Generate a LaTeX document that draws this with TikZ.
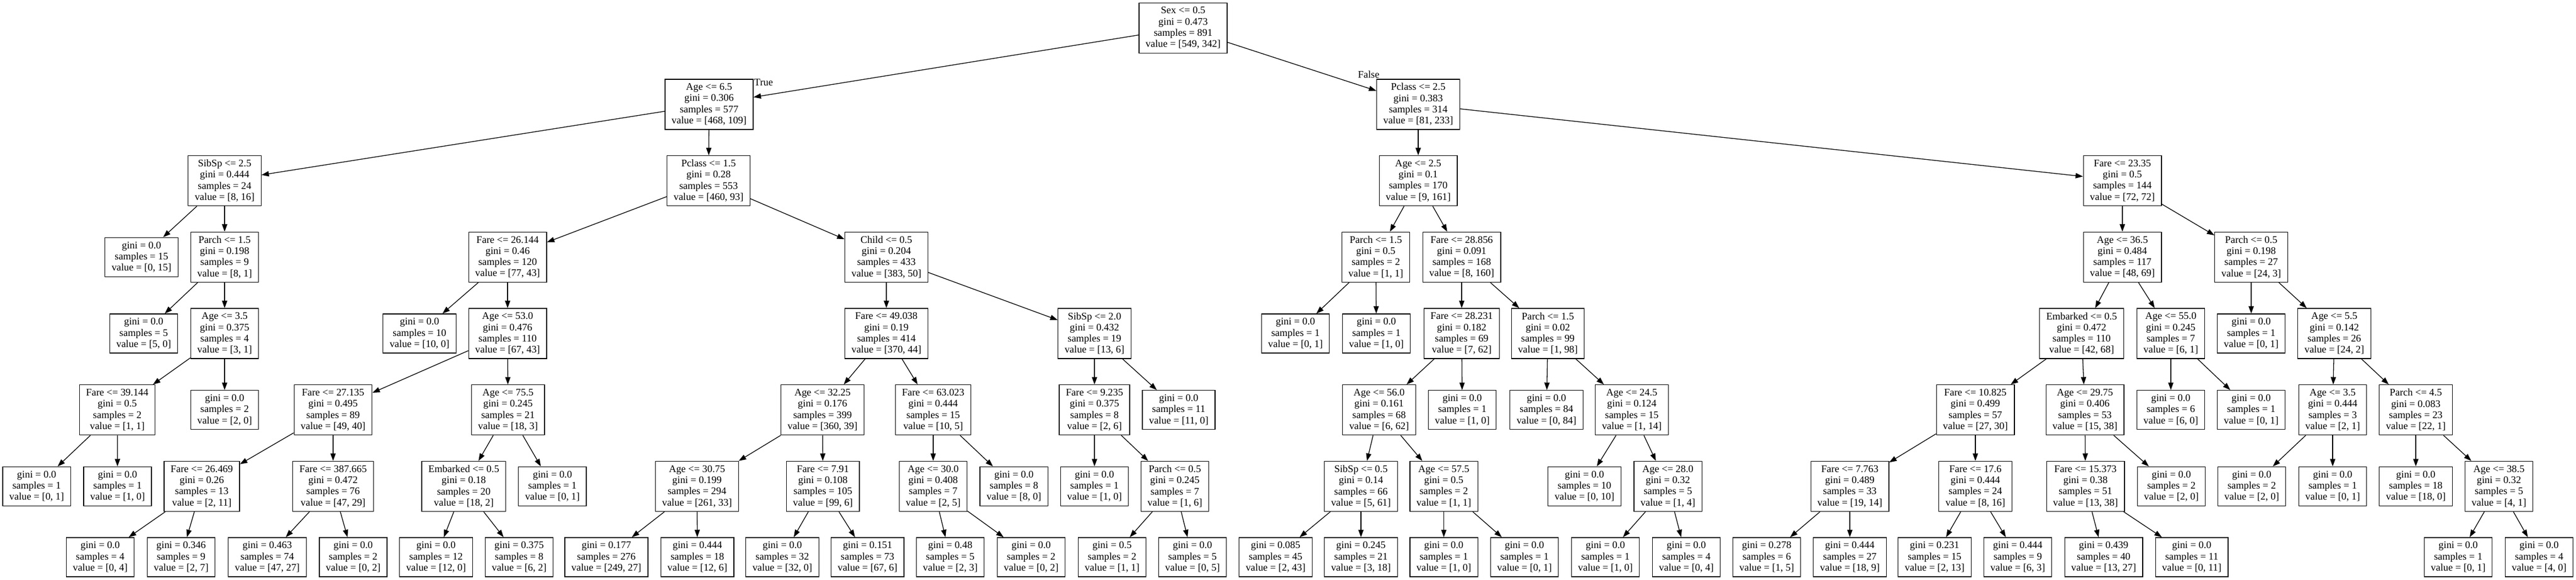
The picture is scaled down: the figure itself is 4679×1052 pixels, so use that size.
\documentclass[tikz,border=0pt]{standalone}
\usepackage{fontspec}
\setmainfont{Liberation Serif}
\usetikzlibrary{arrows.meta}

\tikzset{
  split/.style={draw, line width=1.3pt, align=center, inner xsep=12pt, inner ysep=0pt, minimum height=91pt},
  leaf/.style={split, minimum height=71pt},
  branch/.style={line width=1.3pt, -{Triangle[length=13.5pt,width=9.5pt]}},
  edgetext/.style={inner sep=0pt, anchor=base},
}

\begin{document}
\begin{tikzpicture}[x=1pt,y=-1pt,font=\fontsize{18.4}{20.3}\selectfont]
  \useasboundingbox (0,0) rectangle (4679,1052);

  % level 0 and 1
  \node[split] (n0) at (2149,50.7) {Sex <= 0.5\\gini = 0.473\\samples = 891\\value = [549, 342]};
  \node[split] (n1) at (1288,189.4) {Age <= 6.5\\gini = 0.306\\samples = 577\\value = [468, 109]};
  \node[split] (n48) at (2576,189.4) {Pclass <= 2.5\\gini = 0.383\\samples = 314\\value = [81, 233]};

  \node[edgetext] (ltrue) at (1387,155) {True};
  \node[edgetext] (lfalse) at (2486,141) {False};

  % level 2
  \node[split] (n2) at (408,328.1) {SibSp <= 2.5\\gini = 0.444\\samples = 24\\value = [8, 16]};
  \node[split] (n11) at (1287,328.1) {Pclass <= 1.5\\gini = 0.28\\samples = 553\\value = [460, 93]};
  \node[split] (n49) at (2576,328.1) {Age <= 2.5\\gini = 0.1\\samples = 170\\value = [9, 161]};
  \node[split] (n70) at (3855,328.1) {Fare <= 23.35\\gini = 0.5\\samples = 144\\value = [72, 72]};

  % level 3
  \node[leaf] (n3) at (257,466.8) {gini = 0.0\\samples = 15\\value = [0, 15]};
  \node[split] (n4) at (408,466.8) {Parch <= 1.5\\gini = 0.198\\samples = 9\\value = [8, 1]};
  \node[split] (n12) at (922,466.8) {Fare <= 26.144\\gini = 0.46\\samples = 120\\value = [77, 43]};
  \node[split] (n27) at (1610,466.8) {Child <= 0.5\\gini = 0.204\\samples = 433\\value = [383, 50]};
  \node[split] (n50) at (2499,466.8) {Parch <= 1.5\\gini = 0.5\\samples = 2\\value = [1, 1]};
  \node[split] (n53) at (2655,466.8) {Fare <= 28.856\\gini = 0.091\\samples = 168\\value = [8, 160]};
  \node[split] (n71) at (3855,466.8) {Age <= 36.5\\gini = 0.484\\samples = 117\\value = [48, 69]};
  \node[split] (n88) at (4089,466.8) {Parch <= 0.5\\gini = 0.198\\samples = 27\\value = [24, 3]};

  % level 4
  \node[leaf] (n5) at (261,605.5) {gini = 0.0\\samples = 5\\value = [5, 0]};
  \node[split] (n6) at (408,605.5) {Age <= 3.5\\gini = 0.375\\samples = 4\\value = [3, 1]};
  \node[leaf] (n13) at (762,605.5) {gini = 0.0\\samples = 10\\value = [10, 0]};
  \node[split] (n14) at (922,605.5) {Age <= 53.0\\gini = 0.476\\samples = 110\\value = [67, 43]};
  \node[split] (n28) at (1610,605.5) {Fare <= 49.038\\gini = 0.19\\samples = 414\\value = [370, 44]};
  \node[split] (n41) at (1988,605.5) {SibSp <= 2.0\\gini = 0.432\\samples = 19\\value = [13, 6]};
  \node[leaf] (n51) at (2353,605.5) {gini = 0.0\\samples = 1\\value = [0, 1]};
  \node[leaf] (n52) at (2500,605.5) {gini = 0.0\\samples = 1\\value = [1, 0]};
  \node[split] (n54) at (2655,605.5) {Fare <= 28.231\\gini = 0.182\\samples = 69\\value = [7, 62]};
  \node[split] (n63) at (2811.5,605.5) {Parch <= 1.5\\gini = 0.02\\samples = 99\\value = [1, 98]};
  \node[split] (n72) at (3781,605.5) {Embarked <= 0.5\\gini = 0.472\\samples = 110\\value = [42, 68]};
  \node[split] (n85) at (3943,605.5) {Age <= 55.0\\gini = 0.245\\samples = 7\\value = [6, 1]};
  \node[leaf] (n89) at (4089,605.5) {gini = 0.0\\samples = 1\\value = [0, 1]};
  \node[split] (n90) at (4240,605.5) {Age <= 5.5\\gini = 0.142\\samples = 26\\value = [24, 2]};

  % level 5
  \node[split] (n7) at (213,744.2) {Fare <= 39.144\\gini = 0.5\\samples = 2\\value = [1, 1]};
  \node[leaf] (n10) at (408,744.2) {gini = 0.0\\samples = 2\\value = [2, 0]};
  \node[split] (n15) at (605,744.2) {Fare <= 27.135\\gini = 0.495\\samples = 89\\value = [49, 40]};
  \node[split] (n22) at (922.7,744.2) {Age <= 75.5\\gini = 0.245\\samples = 21\\value = [18, 3]};
  \node[split] (n29) at (1494,744.2) {Age <= 32.25\\gini = 0.176\\samples = 399\\value = [360, 39]};
  \node[split] (n36) at (1695,744.2) {Fare <= 63.023\\gini = 0.444\\samples = 15\\value = [10, 5]};
  \node[split] (n42) at (1988,744.2) {Fare <= 9.235\\gini = 0.375\\samples = 8\\value = [2, 6]};
  \node[leaf] (n47) at (2141,744.2) {gini = 0.0\\samples = 11\\value = [11, 0]};
  \node[split] (n55) at (2505,744.2) {Age <= 56.0\\gini = 0.161\\samples = 68\\value = [6, 62]};
  \node[leaf] (n62) at (2656,744.2) {gini = 0.0\\samples = 1\\value = [1, 0]};
  \node[leaf] (n64) at (2809,744.2) {gini = 0.0\\samples = 84\\value = [0, 84]};
  \node[split] (n65) at (2964,744.2) {Age <= 24.5\\gini = 0.124\\samples = 15\\value = [1, 14]};
  \node[split] (n73) at (3588,744.2) {Fare <= 10.825\\gini = 0.499\\samples = 57\\value = [27, 30]};
  \node[split] (n80) at (3787,744.2) {Age <= 29.75\\gini = 0.406\\samples = 53\\value = [15, 38]};
  \node[leaf] (n86) at (3943,744.2) {gini = 0.0\\samples = 6\\value = [6, 0]};
  \node[leaf] (n87) at (4089,744.2) {gini = 0.0\\samples = 1\\value = [0, 1]};
  \node[split] (n91) at (4237,744.2) {Age <= 3.5\\gini = 0.444\\samples = 3\\value = [2, 1]};
  \node[split] (n94) at (4388,744.2) {Parch <= 4.5\\gini = 0.083\\samples = 23\\value = [22, 1]};

  % level 6
  \node[leaf] (n8) at (66.6,882.9) {gini = 0.0\\samples = 1\\value = [0, 1]};
  \node[leaf] (n9) at (213.5,882.9) {gini = 0.0\\samples = 1\\value = [1, 0]};
  \node[split] (n16) at (366.5,882.9) {Fare <= 26.469\\gini = 0.26\\samples = 13\\value = [2, 11]};
  \node[split] (n19) at (605,882.9) {Fare <= 387.665\\gini = 0.472\\samples = 76\\value = [47, 29]};
  \node[split] (n23) at (842.4,882.9) {Embarked <= 0.5\\gini = 0.18\\samples = 20\\value = [18, 2]};
  \node[leaf] (n26) at (1003.4,882.9) {gini = 0.0\\samples = 1\\value = [0, 1]};
  \node[split] (n30) at (1266,882.9) {Age <= 30.75\\gini = 0.199\\samples = 294\\value = [261, 33]};
  \node[split] (n33) at (1494.7,882.9) {Fare <= 7.91\\gini = 0.108\\samples = 105\\value = [99, 6]};
  \node[split] (n37) at (1695,882.9) {Age <= 30.0\\gini = 0.408\\samples = 7\\value = [2, 5]};
  \node[leaf] (n40) at (1841.7,882.9) {gini = 0.0\\samples = 8\\value = [8, 0]};
  \node[leaf] (n43) at (1988,882.9) {gini = 0.0\\samples = 1\\value = [1, 0]};
  \node[split] (n44) at (2134,882.9) {Parch <= 0.5\\gini = 0.245\\samples = 7\\value = [1, 6]};
  \node[split] (n56) at (2472,882.9) {SibSp <= 0.5\\gini = 0.14\\samples = 66\\value = [5, 61]};
  \node[split] (n59) at (2622.5,882.9) {Age <= 57.5\\gini = 0.5\\samples = 2\\value = [1, 1]};
  \node[leaf] (n66) at (2878,882.9) {gini = 0.0\\samples = 10\\value = [0, 10]};
  \node[split] (n67) at (3029.5,882.9) {Age <= 28.0\\gini = 0.32\\samples = 5\\value = [1, 4]};
  \node[split] (n74) at (3360,882.9) {Fare <= 7.763\\gini = 0.489\\samples = 33\\value = [19, 14]};
  \node[split] (n77) at (3588,882.9) {Fare <= 17.6\\gini = 0.444\\samples = 24\\value = [8, 16]};
  \node[split] (n81) at (3788,882.9) {Fare <= 15.373\\gini = 0.38\\samples = 51\\value = [13, 38]};
  \node[leaf] (n84) at (3944,882.9) {gini = 0.0\\samples = 2\\value = [2, 0]};
  \node[leaf] (n92) at (4090,882.9) {gini = 0.0\\samples = 2\\value = [2, 0]};
  \node[leaf] (n93) at (4237,882.9) {gini = 0.0\\samples = 1\\value = [0, 1]};
  \node[leaf] (n95) at (4388,882.9) {gini = 0.0\\samples = 18\\value = [18, 0]};
  \node[split] (n96) at (4539,882.9) {Age <= 38.5\\gini = 0.32\\samples = 5\\value = [4, 1]};

  % level 7
  \node[leaf] (n17) at (182,1011.4) {gini = 0.0\\samples = 4\\value = [0, 4]};
  \node[leaf] (n18) at (329,1011.4) {gini = 0.346\\samples = 9\\value = [2, 7]};
  \node[leaf] (n20) at (485.5,1011.4) {gini = 0.463\\samples = 74\\value = [47, 27]};
  \node[leaf] (n21) at (641.5,1011.4) {gini = 0.0\\samples = 2\\value = [0, 2]};
  \node[leaf] (n24) at (792,1011.4) {gini = 0.0\\samples = 12\\value = [12, 0]};
  \node[leaf] (n25) at (943,1011.4) {gini = 0.375\\samples = 8\\value = [6, 2]};
  \node[leaf] (n31) at (1101.4,1011.4) {gini = 0.177\\samples = 276\\value = [249, 27]};
  \node[leaf] (n32) at (1266.7,1011.4) {gini = 0.444\\samples = 18\\value = [12, 6]};
  \node[leaf] (n34) at (1421,1011.4) {gini = 0.0\\samples = 32\\value = [32, 0]};
  \node[leaf] (n35) at (1575.8,1011.4) {gini = 0.151\\samples = 73\\value = [67, 6]};
  \node[leaf] (n38) at (1726,1011.4) {gini = 0.48\\samples = 5\\value = [2, 3]};
  \node[leaf] (n39) at (1873,1011.4) {gini = 0.0\\samples = 2\\value = [0, 2]};
  \node[leaf] (n45) at (2020,1011.4) {gini = 0.5\\samples = 2\\value = [1, 1]};
  \node[leaf] (n46) at (2166,1011.4) {gini = 0.0\\samples = 5\\value = [0, 5]};
  \node[leaf] (n57) at (2317,1011.4) {gini = 0.085\\samples = 45\\value = [2, 43]};
  \node[leaf] (n58) at (2472,1011.4) {gini = 0.245\\samples = 21\\value = [3, 18]};
  \node[leaf] (n60) at (2622.5,1011.4) {gini = 0.0\\samples = 1\\value = [1, 0]};
  \node[leaf] (n61) at (2769,1011.4) {gini = 0.0\\samples = 1\\value = [0, 1]};
  \node[leaf] (n68) at (2916,1011.4) {gini = 0.0\\samples = 1\\value = [1, 0]};
  \node[leaf] (n69) at (3063,1011.4) {gini = 0.0\\samples = 4\\value = [0, 4]};
  \node[leaf] (n75) at (3209,1011.4) {gini = 0.278\\samples = 6\\value = [1, 5]};
  \node[leaf] (n76) at (3360,1011.4) {gini = 0.444\\samples = 27\\value = [18, 9]};
  \node[leaf] (n78) at (3514,1011.4) {gini = 0.231\\samples = 15\\value = [2, 13]};
  \node[leaf] (n79) at (3665,1011.4) {gini = 0.444\\samples = 9\\value = [6, 3]};
  \node[leaf] (n82) at (3821,1011.4) {gini = 0.439\\samples = 40\\value = [13, 27]};
  \node[leaf] (n83) at (3981,1011.4) {gini = 0.0\\samples = 11\\value = [0, 11]};
  \node[leaf] (n97) at (4465,1011.4) {gini = 0.0\\samples = 1\\value = [0, 1]};
  \node[leaf] (n98) at (4612,1011.4) {gini = 0.0\\samples = 4\\value = [4, 0]};

  % branches
  \draw[branch] (n0) -- (n1); \draw[branch] (n0) -- (n48);
  \draw[branch] (n1) -- (n2); \draw[branch] (n1) -- (n11);
  \draw[branch] (n2) -- (n3); \draw[branch] (n2) -- (n4);
  \draw[branch] (n4) -- (n5); \draw[branch] (n4) -- (n6);
  \draw[branch] (n6) -- (n7); \draw[branch] (n6) -- (n10);
  \draw[branch] (n7) -- (n8); \draw[branch] (n7) -- (n9);
  \draw[branch] (n11) -- (n12); \draw[branch] (n11) -- (n27);
  \draw[branch] (n12) -- (n13); \draw[branch] (n12) -- (n14);
  \draw[branch] (n14) -- (n15); \draw[branch] (n14) -- (n22);
  \draw[branch] (n15) -- (n16); \draw[branch] (n15) -- (n19);
  \draw[branch] (n16) -- (n17); \draw[branch] (n16) -- (n18);
  \draw[branch] (n19) -- (n20); \draw[branch] (n19) -- (n21);
  \draw[branch] (n22) -- (n23); \draw[branch] (n22) -- (n26);
  \draw[branch] (n23) -- (n24); \draw[branch] (n23) -- (n25);
  \draw[branch] (n27) -- (n28); \draw[branch] (n27) -- (n41);
  \draw[branch] (n28) -- (n29); \draw[branch] (n28) -- (n36);
  \draw[branch] (n29) -- (n30); \draw[branch] (n29) -- (n33);
  \draw[branch] (n30) -- (n31); \draw[branch] (n30) -- (n32);
  \draw[branch] (n33) -- (n34); \draw[branch] (n33) -- (n35);
  \draw[branch] (n36) -- (n37); \draw[branch] (n36) -- (n40);
  \draw[branch] (n37) -- (n38); \draw[branch] (n37) -- (n39);
  \draw[branch] (n41) -- (n42); \draw[branch] (n41) -- (n47);
  \draw[branch] (n42) -- (n43); \draw[branch] (n42) -- (n44);
  \draw[branch] (n44) -- (n45); \draw[branch] (n44) -- (n46);
  \draw[branch] (n48) -- (n49); \draw[branch] (n48) -- (n70);
  \draw[branch] (n49) -- (n50); \draw[branch] (n49) -- (n53);
  \draw[branch] (n50) -- (n51); \draw[branch] (n50) -- (n52);
  \draw[branch] (n53) -- (n54); \draw[branch] (n53) -- (n63);
  \draw[branch] (n54) -- (n55); \draw[branch] (n54) -- (n62);
  \draw[branch] (n55) -- (n56); \draw[branch] (n55) -- (n59);
  \draw[branch] (n56) -- (n57); \draw[branch] (n56) -- (n58);
  \draw[branch] (n59) -- (n60); \draw[branch] (n59) -- (n61);
  \draw[branch] (n63) -- (n64); \draw[branch] (n63) -- (n65);
  \draw[branch] (n65) -- (n66); \draw[branch] (n65) -- (n67);
  \draw[branch] (n67) -- (n68); \draw[branch] (n67) -- (n69);
  \draw[branch] (n70) -- (n71); \draw[branch] (n70) -- (n88);
  \draw[branch] (n71) -- (n72); \draw[branch] (n71) -- (n85);
  \draw[branch] (n72) -- (n73); \draw[branch] (n72) -- (n80);
  \draw[branch] (n73) -- (n74); \draw[branch] (n73) -- (n77);
  \draw[branch] (n74) -- (n75); \draw[branch] (n74) -- (n76);
  \draw[branch] (n77) -- (n78); \draw[branch] (n77) -- (n79);
  \draw[branch] (n80) -- (n81); \draw[branch] (n80) -- (n84);
  \draw[branch] (n81) -- (n82); \draw[branch] (n81) -- (n83);
  \draw[branch] (n85) -- (n86); \draw[branch] (n85) -- (n87);
  \draw[branch] (n88) -- (n89); \draw[branch] (n88) -- (n90);
  \draw[branch] (n90) -- (n91); \draw[branch] (n90) -- (n94);
  \draw[branch] (n91) -- (n92); \draw[branch] (n91) -- (n93);
  \draw[branch] (n94) -- (n95); \draw[branch] (n94) -- (n96);
  \draw[branch] (n96) -- (n97); \draw[branch] (n96) -- (n98);
\end{tikzpicture}
\end{document}
